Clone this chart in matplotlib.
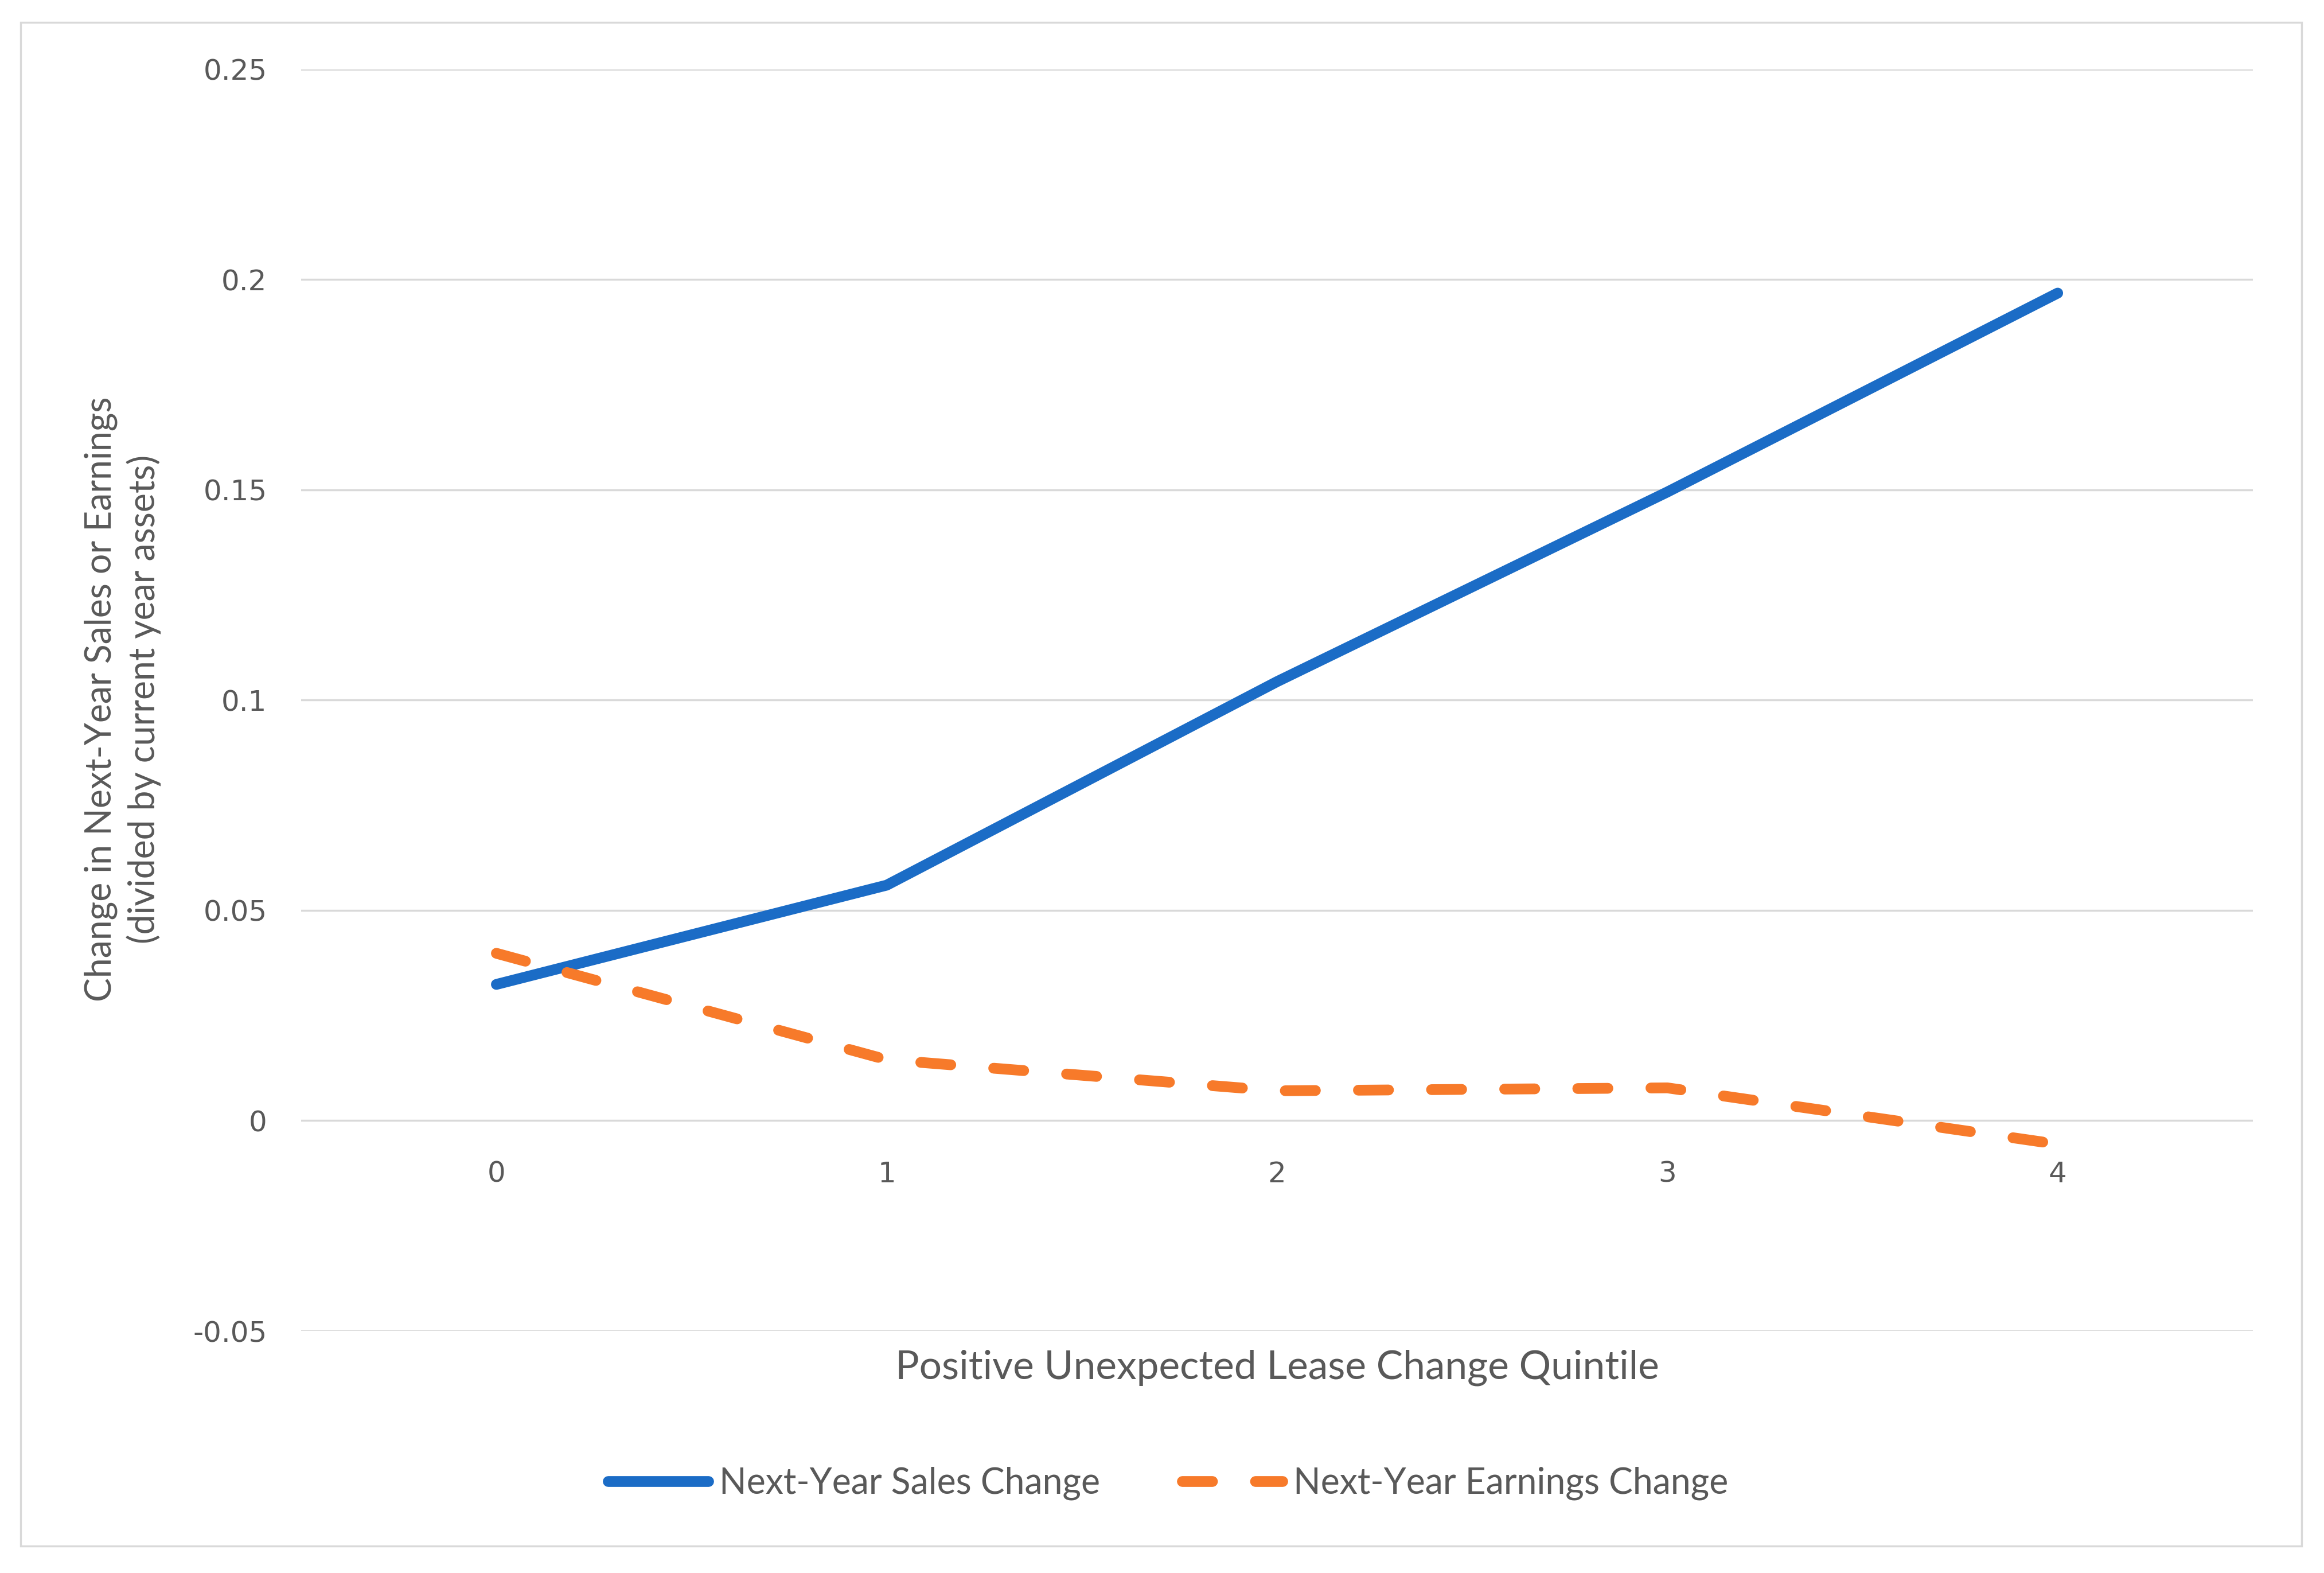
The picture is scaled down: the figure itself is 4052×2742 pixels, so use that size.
import matplotlib
matplotlib.use("Agg")
import matplotlib.pyplot as plt
from matplotlib.patches import Rectangle

# quintiles and the two series
quintiles = [0, 1, 2, 3, 4]
sales_change = [0.0324, 0.0560, 0.1044, 0.1495, 0.1968]
earnings_change = [0.0398, 0.0145, 0.0071, 0.0078, -0.0056]

y_ticks = [-0.05, 0, 0.05, 0.1, 0.15, 0.2, 0.25]
y_tick_labels = ["-0.05", "0", "0.05", "0.1", "0.15", "0.2", "0.25"]

blue = "#1B6CC6"
orange = "#F77A2A"
grey_text = "#595959"
grid_col = "#D9D9D9"
text_font = ["Lato", "DejaVu Sans"]

fig = plt.figure(figsize=(40.52, 27.42), dpi=100)
ax = fig.add_axes([0.1296, 0.1539, 0.8398, 0.8020])

# chart-area border
fig.patches.append(Rectangle((0.0089, 0.0171), 0.9815, 0.9687, transform=fig.transFigure,
                             fill=False, edgecolor=grid_col, linewidth=2.5))

ax.plot(quintiles, sales_change, color=blue, linewidth=13.5, solid_capstyle="round",
        solid_joinstyle="round", label="Next-Year Sales Change", zorder=3)
ax.plot(quintiles, earnings_change, color=orange, linewidth=13.5, dashes=(2.8, 4.0),
        dash_capstyle="round", label="Next-Year Earnings Change", zorder=3)

ax.set_xlim(-0.5, 4.5)
ax.set_ylim(-0.05, 0.25)
ax.set_yticks(y_ticks)
ax.set_yticklabels(y_tick_labels)
ax.set_xticks(quintiles)
ax.grid(axis="y", color=grid_col, linewidth=2.5)
ax.set_axisbelow(True)

for s in ["top", "right", "left"]:
    ax.spines[s].set_visible(False)
# category axis crosses at zero, like the excel original
ax.spines["bottom"].set_position(("data", 0))
ax.spines["bottom"].set_visible(False)

ax.tick_params(axis="both", length=0, labelsize=36, labelcolor=grey_text)
ax.tick_params(axis="y", pad=43)
ax.tick_params(axis="x", pad=50)
for lbl in ax.get_xticklabels() + ax.get_yticklabels():
    lbl.set_family(["DejaVu Sans"])

ax.text(0.5, -0.029, "Positive Unexpected Lease Change Quintile", transform=ax.transAxes,
        ha="center", va="center", fontsize=50, color=grey_text, family=text_font)

fig.text(0.0528, 0.5555, "Change in Next-Year Sales or Earnings\n(divided by current year assets)",
         rotation=90, ha="center", va="center", fontsize=45, color=grey_text,
         family=text_font, linespacing=1.3, multialignment="center")

leg = fig.legend(loc="center", bbox_to_anchor=(0.5026, 0.0570), ncol=2, frameon=False,
                 handlelength=2.8, handletextpad=0.3, columnspacing=2.3,
                 prop={"family": text_font, "size": 45})
for t in leg.get_texts():
    t.set_color(grey_text)

fig.savefig("out.png", dpi=100, facecolor="white")
